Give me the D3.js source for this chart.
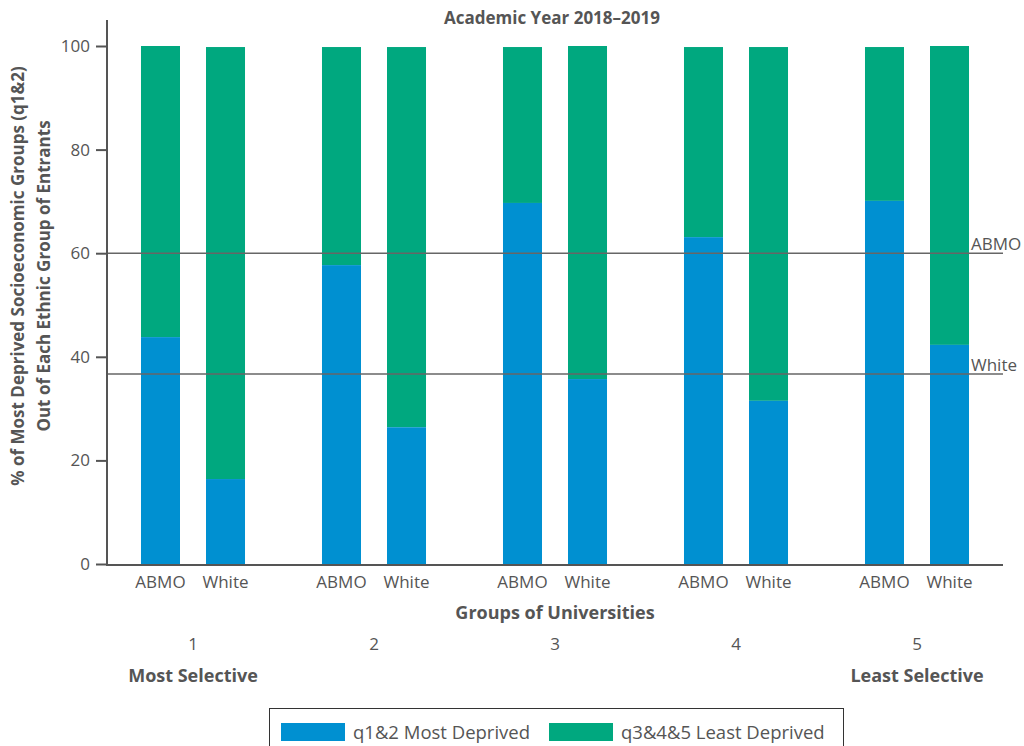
<!DOCTYPE html>
<html>
<head>
<meta charset="utf-8">
<script src="https://cdn.jsdelivr.net/npm/d3@7"></script>
<style>
  html, body { margin: 0; padding: 0; background: #fff; }
  svg { display: block; font-family: "Open Sans", Roboto, sans-serif; }
</style>
</head>
<body>
<svg id="chart" width="1024" height="746"></svg>
<script>
// ---- data ----
const groups = ["1", "2", "3", "4", "5"];
const ethnicities = ["ABMO", "White"];
const mostDeprivedABMO = [43.8, 57.7, 69.7, 63.1, 70.1];
const mostDeprivedWhite = [16.4, 26.4, 35.7, 31.5, 42.3];
const totalABMO = [100, 99.8, 99.8, 99.8, 99.8];
const totalWhite = [99.8, 99.8, 100, 99.8, 100];
const yTicks = [0, 20, 40, 60, 80, 100];
const refLines = [{ label: "ABMO", value: 60 }, { label: "White", value: 36.7 }];
const seriesNames = ["q1&2 Most Deprived", "q3&4&5 Least Deprived"];
const colors = ["#0090D1", "#00A87F"];

const svg = d3.select("#chart");
const textColor = "#555";
const axisColor = "#555";
const regFont = "'Open Sans', sans-serif";

const y = d3.scaleLinear().domain([0, 100]).range([564, 46]);
const x0 = d3.scaleBand().domain(groups).range([102.5, 1007.5]).paddingInner(0);
const x1 = d3.scaleBand().domain(ethnicities).range([0, x0.bandwidth()]).paddingInner(0.4).paddingOuter(0.592);

// build rows
const rows = [];
groups.forEach((g, i) => {
  rows.push({ g, e: "ABMO", low: mostDeprivedABMO[i], total: totalABMO[i] });
  rows.push({ g, e: "White", low: mostDeprivedWhite[i], total: totalWhite[i] });
});

// bars
const bars = svg.append("g");
rows.forEach(r => {
  const bx = x0(r.g) + x1(r.e);
  bars.append("rect").attr("x", bx).attr("width", x1.bandwidth())
    .attr("y", y(r.total)).attr("height", y(r.low) - y(r.total)).attr("fill", colors[1]);
  bars.append("rect").attr("x", bx).attr("width", x1.bandwidth())
    .attr("y", y(r.low)).attr("height", y(0) - y(r.low)).attr("fill", colors[0]);
});

// reference lines
refLines.forEach(rl => {
  svg.append("line").attr("x1", 107).attr("x2", 1003)
    .attr("y1", y(rl.value)).attr("y2", y(rl.value))
    .attr("stroke", "#666").attr("stroke-width", 1.5);
  svg.append("text").attr("x", 971).attr("y", y(rl.value) - 3)
    .attr("fill", textColor).attr("font-size", 17).attr("font-family", regFont).text(rl.label);
});

// y axis
const yAxis = svg.append("g").attr("transform", "translate(107,0)")
  .call(d3.axisLeft(y).tickValues(yTicks).tickSize(11).tickPadding(6));
yAxis.select(".domain").remove();
yAxis.selectAll(".tick line").attr("stroke", axisColor).attr("stroke-width", 2);
yAxis.selectAll(".tick text").attr("fill", textColor).attr("font-size", 17)
  .attr("font-family", regFont);
svg.append("line").attr("x1", 107).attr("x2", 107).attr("y1", 20).attr("y2", 565)
  .attr("stroke", axisColor).attr("stroke-width", 2);
// x axis line
svg.append("line").attr("x1", 106).attr("x2", 1003).attr("y1", 565).attr("y2", 565)
  .attr("stroke", axisColor).attr("stroke-width", 2);

// ethnicity labels
rows.forEach(r => {
  svg.append("text").attr("x", x0(r.g) + x1(r.e) + x1.bandwidth() / 2).attr("y", 588)
    .attr("text-anchor", "middle").attr("fill", textColor).attr("font-size", 17)
    .attr("font-family", regFont).text(r.e);
});
// group numbers
groups.forEach(g => {
  svg.append("text").attr("x", x0(g) + x0.bandwidth() / 2).attr("y", 650)
    .attr("text-anchor", "middle").attr("fill", textColor).attr("font-size", 17)
    .attr("font-family", regFont).text(g);
});
svg.append("text").attr("x", x0("1") + x0.bandwidth() / 2).attr("y", 681.5)
  .attr("text-anchor", "middle").attr("fill", textColor).attr("font-size", 18)
  .attr("font-weight", "bold").text("Most Selective");
svg.append("text").attr("x", x0("5") + x0.bandwidth() / 2).attr("y", 681.5)
  .attr("text-anchor", "middle").attr("fill", textColor).attr("font-size", 18)
  .attr("font-weight", "bold").text("Least Selective");
svg.append("text").attr("x", 555).attr("y", 618.5)
  .attr("text-anchor", "middle").attr("fill", textColor).attr("font-size", 18)
  .attr("font-weight", "bold").text("Groups of Universities");

// title
svg.append("text").attr("x", 552).attr("y", 24)
  .attr("text-anchor", "middle").attr("fill", textColor).attr("font-size", 17)
  .attr("font-weight", "bold").text("Academic Year 2018\u20132019");

// y label
const yl = svg.append("text").attr("transform", "translate(0,276) rotate(-90)")
  .attr("text-anchor", "middle").attr("fill", textColor).attr("font-size", 17)
  .attr("font-weight", "bold");
yl.append("tspan").attr("x", 0).attr("y", 24).text("% of Most Deprived Socioeconomic Groups (q1&2)");
yl.append("tspan").attr("x", 0).attr("y", 50).text("Out of Each Ethnic Group of Entrants");

// legend
const lg = svg.append("g");
lg.append("rect").attr("x", 269.5).attr("y", 708.5).attr("width", 574).attr("height", 50)
  .attr("fill", "#fff").attr("stroke", "#333").attr("stroke-width", 1);
const legX = [281, 549];
seriesNames.forEach((s, i) => {
  lg.append("rect").attr("x", legX[i]).attr("y", 723).attr("width", 64).attr("height", 18)
    .attr("fill", colors[i]);
  lg.append("text").attr("x", legX[i] + 72).attr("y", 739).attr("fill", textColor)
    .attr("font-size", 18.5).attr("font-family", regFont).text(s);
});
</script>
</body>
</html>
